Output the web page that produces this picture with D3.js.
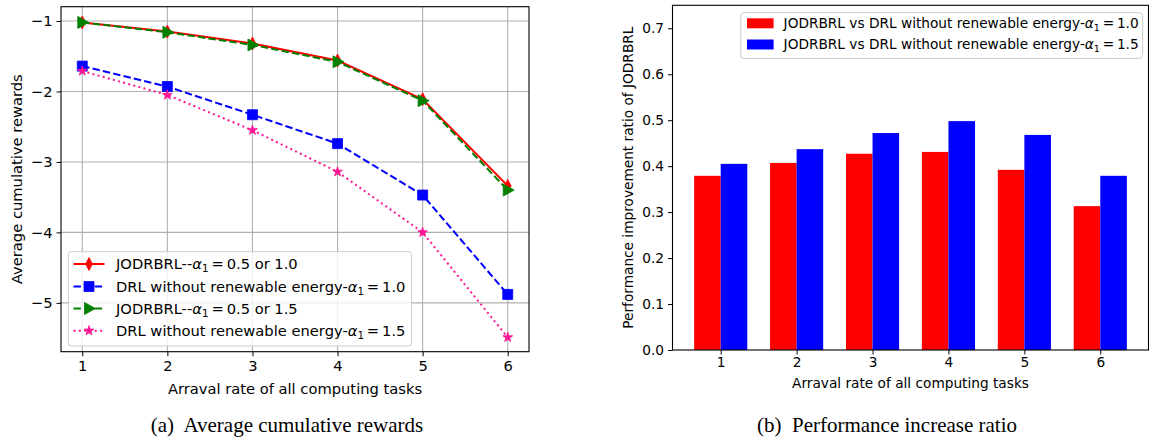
<!DOCTYPE html>
<html><head><meta charset="utf-8">
<script src="https://cdn.jsdelivr.net/npm/d3@7"></script>
<style>
html,body{margin:0;padding:0;background:#fff;}
svg{display:block;font-family:"DejaVu Sans",sans-serif;}
</style></head>
<body><svg id="chart" width="1149" height="445"></svg>
<script>
// ---- data ----
const categories = [1, 2, 3, 4, 5, 6];
const jodrbrlA10 = [-1.02, -1.15, -1.32, -1.56, -2.11, -3.34];
const drlA10 = [-1.64, -1.93, -2.33, -2.74, -3.47, -4.88];
const jodrbrlA15 = [-1.02, -1.16, -1.34, -1.58, -2.13, -3.40];
const drlA15 = [-1.71, -2.05, -2.55, -3.14, -4.00, -5.49];
const ratioA10 = [0.379, 0.407, 0.427, 0.431, 0.392, 0.313];
const ratioA15 = [0.405, 0.437, 0.472, 0.498, 0.468, 0.379];
const leftYTicks = [-5, -4, -3, -2, -1];
const rightYTicks = [0, 0.1, 0.2, 0.3, 0.4, 0.5, 0.6, 0.7];
const xLabel = "Arraval rate of all computing tasks";
const leftYLabel = "Average cumulative rewards";
const rightYLabel = "Performance improvement ratio of JODRBRL";
const captionA = "(a)  Average cumulative rewards";
const captionB = "(b)  Performance increase ratio";

const svg = d3.select("#chart");
svg.append("rect").attr("width", 1149).attr("height", 445).attr("fill", "#fff");
const FSL = 14.7, FSR = 13.7;

function mathLabel(sel, prefix, suffix, fs) {
  sel.append("tspan").text(prefix);
  sel.append("tspan").attr("font-style", "italic").text("α");
  sel.append("tspan").attr("font-size", fs * 0.7).attr("dy", fs * 0.22).text("1");
  sel.append("tspan").attr("dy", -fs * 0.22).text("\u2009=\u2009" + suffix);
}

// ================= LEFT =================
const L = {l: 61, r: 529, t: 6.7, b: 351.7};
const xL = d3.scaleLinear().domain([0.75, 6.25]).range([L.l, L.r]);
const yL = d3.scaleLinear().domain([-5.693, -0.797]).range([L.b, L.t]);
const gl = svg.append("g");

// grid
gl.append("g").selectAll("line").data(categories).join("line")
  .attr("x1", d => xL(d)).attr("x2", d => xL(d)).attr("y1", L.t).attr("y2", L.b)
  .attr("stroke", "#b0b0b0").attr("stroke-width", 1.1);
gl.append("g").selectAll("line").data(leftYTicks).join("line")
  .attr("y1", d => yL(d)).attr("y2", d => yL(d)).attr("x1", L.l).attr("x2", L.r)
  .attr("stroke", "#b0b0b0").attr("stroke-width", 1.1);

const series = [
  {vals: jodrbrlA10, color: "#ff0000", dash: null, marker: "thinDiamond", pre: "JODRBRL--", suf: "0.5 or 1.0"},
  {vals: drlA10, color: "#0000ff", dash: "7.4,3.2", marker: "square", pre: "DRL without renewable energy-", suf: "1.0"},
  {vals: jodrbrlA15, color: "#008000", dash: "7.4,3.2", marker: "triRight", pre: "JODRBRL--", suf: "0.5 or 1.5"},
  {vals: drlA15, color: "#ff1493", dash: "2,3.3", marker: "star", pre: "DRL without renewable energy-", suf: "1.5"}
];
function markerPath(type) {
  switch (type) {
    case "thinDiamond": return "M0,-6.5L3.4,0L0,6.5L-3.4,0Z";
    case "square": return "M-5,-5H5V5H-5Z";
    case "triRight": return "M6.5,0L-4.5,-6L-4.5,6Z";
    case "star": return d3.symbol(d3.symbolStar, 30)();
  }
}
const line = d3.line().x((d, i) => xL(categories[i])).y(d => yL(d));
series.forEach(s => {
  const g = gl.append("g");
  g.append("path").datum(s.vals).attr("d", line).attr("fill", "none")
    .attr("stroke", s.color).attr("stroke-width", 2).attr("stroke-dasharray", s.dash);
  g.selectAll("path.m").data(s.vals).join("path").attr("class", "m")
    .attr("transform", (d, i) => `translate(${xL(categories[i])},${yL(d)})`)
    .attr("d", markerPath(s.marker)).attr("fill", s.color).attr("stroke", s.color).attr("stroke-width", 0.8);
});

// axes
const axLx = gl.append("g").attr("transform", `translate(0,${L.b})`)
  .call(d3.axisBottom(xL).tickValues(categories).tickSize(4.5).tickPadding(4).tickFormat(d3.format("d")));
const axLy = gl.append("g").attr("transform", `translate(${L.l},0)`)
  .call(d3.axisLeft(yL).tickValues(leftYTicks).tickSize(4.5).tickPadding(4).tickFormat(d => "\u2212" + Math.abs(d)));
[axLx, axLy].forEach(a => { a.select(".domain").remove(); a.selectAll("text").attr("font-size", FSL).attr("font-family", "DejaVu Sans").attr("fill", "#000"); a.selectAll("line").attr("stroke", "#000").attr("stroke-width", 1); });
gl.append("rect").attr("x", L.l).attr("y", L.t).attr("width", L.r - L.l).attr("height", L.b - L.t)
  .attr("fill", "none").attr("stroke", "#000").attr("stroke-width", 1.1);

gl.append("text").attr("x", (L.l + L.r) / 2).attr("y", 394).attr("text-anchor", "middle")
  .attr("font-size", FSL).text(xLabel);
gl.append("text").attr("transform", `translate(21.5,${(L.t + L.b) / 2}) rotate(-90)`).attr("text-anchor", "middle")
  .attr("font-size", FSL).text(leftYLabel);

// left legend
const lg = gl.append("g");
lg.append("rect").attr("x", 68.3).attr("y", 251.7).attr("width", 411.5 - 68.3).attr("height", 346 - 251.7)
  .attr("rx", 3).attr("fill", "#fff").attr("fill-opacity", 0.8).attr("stroke", "#cccccc").attr("stroke-width", 1);
const rowsY = [264, 286.5, 308.5, 330.7];
series.forEach((s, i) => {
  const y = rowsY[i];
  lg.append("line").attr("x1", 73.5).attr("x2", 104.5).attr("y1", y).attr("y2", y)
    .attr("stroke", s.color).attr("stroke-width", 2).attr("stroke-dasharray", s.dash);
  lg.append("path").attr("transform", `translate(89,${y})`).attr("d", markerPath(s.marker))
    .attr("fill", s.color).attr("stroke", s.color).attr("stroke-width", 0.8);
  const t = lg.append("text").attr("x", 116).attr("y", y + 5.2).attr("font-size", FSL);
  mathLabel(t, s.pre, s.suf, FSL);
});

// ================= RIGHT =================
const R = {l: 672.5, r: 1148.5, t: 5.3, b: 350};
const xR = d3.scaleLinear().domain([0.365, 6.635]).range([R.l, R.r]);
const yR = d3.scaleLinear().domain([0, 0.75]).range([R.b, R.t]);
const gr = svg.append("g");
const bw = 0.35;
const bars = [
  {vals: ratioA10, color: "#ff0000", off: -bw / 2, label: "JODRBRL vs DRL without renewable energy-", suf: "1.0"},
  {vals: ratioA15, color: "#0000ff", off: bw / 2, label: "JODRBRL vs DRL without renewable energy-", suf: "1.5"}
];
bars.forEach(b => {
  gr.append("g").selectAll("rect").data(b.vals).join("rect")
    .attr("x", (d, i) => xR(categories[i] + b.off - bw / 2))
    .attr("width", xR(bw) - xR(0))
    .attr("y", d => yR(d)).attr("height", d => yR(0) - yR(d))
    .attr("fill", b.color);
});
const axRx = gr.append("g").attr("transform", `translate(0,${R.b})`)
  .call(d3.axisBottom(xR).tickValues(categories).tickSize(4.5).tickPadding(3).tickFormat(d3.format("d")));
const axRy = gr.append("g").attr("transform", `translate(${R.l},0)`)
  .call(d3.axisLeft(yR).tickValues(rightYTicks).tickSize(4.5).tickPadding(4).tickFormat(d3.format(".1f")));
[axRx, axRy].forEach(a => { a.select(".domain").remove(); a.selectAll("text").attr("font-size", FSR).attr("font-family", "DejaVu Sans").attr("fill", "#000"); a.selectAll("line").attr("stroke", "#000").attr("stroke-width", 1); });
gr.append("rect").attr("x", R.l).attr("y", R.t).attr("width", R.r - R.l).attr("height", R.b - R.t)
  .attr("fill", "none").attr("stroke", "#000").attr("stroke-width", 1.1);
gr.append("text").attr("x", (R.l + R.r) / 2).attr("y", 388).attr("text-anchor", "middle")
  .attr("font-size", FSR).text(xLabel);
gr.append("text").attr("transform", `translate(632.5,${(R.t + R.b) / 2}) rotate(-90)`).attr("text-anchor", "middle")
  .attr("font-size", FSR).text(rightYLabel);

const rg = gr.append("g");
rg.append("rect").attr("x", 740.8).attr("y", 12.7).attr("width", 1142.6 - 740.8).attr("height", 58.3 - 12.7)
  .attr("rx", 3).attr("fill", "#fff").attr("fill-opacity", 0.8).attr("stroke", "#cccccc").attr("stroke-width", 1);
const rRows = [23.3, 44.5];
bars.forEach((b, i) => {
  const y = rRows[i];
  rg.append("rect").attr("x", 747).attr("y", y - 5).attr("width", 26.6).attr("height", 10).attr("fill", b.color);
  const t = rg.append("text").attr("x", 783.6).attr("y", y + 4.9).attr("font-size", FSR);
  mathLabel(t, b.label, b.suf, FSR);
});

// captions
svg.append("text").attr("x", 287).attr("y", 432).attr("text-anchor", "middle")
  .attr("font-family", "Liberation Serif, Times New Roman, serif").attr("font-size", 21)
  .style("white-space", "pre").text(captionA);
svg.append("text").attr("x", 887).attr("y", 432).attr("text-anchor", "middle")
  .attr("font-family", "Liberation Serif, Times New Roman, serif").attr("font-size", 21)
  .style("white-space", "pre").text(captionB);
</script></body></html>
